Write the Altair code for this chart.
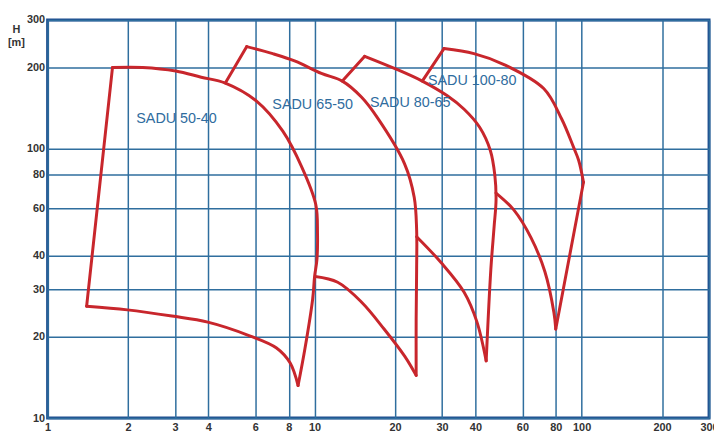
import altair as alt
import pandas as pd

# Axis tick values
x_ticks = [1, 2, 3, 4, 6, 8, 10, 20, 30, 40, 60, 80, 100, 200, 300]
y_ticks = [10, 20, 30, 40, 60, 80, 100, 200, 300]

# SADU 50-40 outline pieces (Q in m3/h, H in m)
s5040_left_q = [1.40, 1.75]
s5040_left_h = [26.0, 200]
s5040_top_q = [1.75, 2.27, 3.02, 3.76, 4.63, 6.06, 7.6, 8.97, 10.1, 10.25, 10.2, 10.0, 9.83, 9.2, 8.67]
s5040_top_h = [200, 200, 194, 184, 175, 150, 116, 85, 62, 48.7, 38.7, 33.6, 27.6, 18.1, 13.2]
s5040_bot_q = [8.67, 8.1, 7.2, 5.71, 3.98, 2.92, 1.99, 1.40]
s5040_bot_h = [13.2, 16.0, 18.2, 20.2, 22.7, 23.9, 25.2, 26.0]

# SADU 65-50
s6550_stub_q = [4.63, 5.57]
s6550_stub_h = [175, 239]
s6550_top_q = [5.57, 6.97, 8.46, 10.6, 12.7, 15.0, 17.2, 21.7, 23.6, 24.1, 24.1, 24.0, 24.0]
s6550_top_h = [239, 225, 211, 190, 178, 155, 130, 88, 66, 50, 35.6, 23.3, 14.4]
s6550_bot_q = [24.0, 21.7, 18.2, 15.0, 12.2, 10.05]
s6550_bot_h = [14.4, 17.0, 21.4, 26.9, 31.9, 33.5]

# SADU 80-65
s8065_stub_q = [12.7, 15.4]
s8065_stub_h = [178, 220]
s8065_top_q = [15.4, 20, 25.3, 31.4, 36.3, 41.5, 45.5, 47.3, 47.8, 47.0, 45.7, 43.9]
s8065_top_h = [220, 198, 178, 157, 140, 120, 98.4, 79.7, 64.4, 51.2, 35.6, 16.3]
s8065_bot_q = [43.9, 40.5, 36.3, 29.8, 24.1]
s8065_bot_h = [16.3, 22.8, 29.3, 37.7, 47.1]

# SADU 100-80
s10080_stub_q = [25.3, 30.5]
s10080_stub_h = [178, 235]
s10080_top_q = [30.5, 39.5, 51.2, 72.1, 84.1, 93.3, 97.5, 101.6]
s10080_top_h = [235, 225, 205, 167, 129, 101, 90.3, 75]
s10080_right_q = [101.6, 80]
s10080_right_h = [75, 21.4]
s10080_bot_q = [80, 78.7, 72.8, 64.6, 55.7, 47.8]
s10080_bot_h = [21.4, 24.7, 35, 46.7, 59.2, 68.4]

# Curve labels
label_text = ["SADU 50-40", "SADU 65-50", "SADU 80-65", "SADU 100-80"]
label_q = [3.04, 9.83, 22.8, 38.9]
label_h = [129, 145, 147.6, 178]

pieces = [
    ("a1", s5040_left_q, s5040_left_h), ("a2", s5040_top_q, s5040_top_h), ("a3", s5040_bot_q, s5040_bot_h),
    ("b1", s6550_stub_q, s6550_stub_h), ("b2", s6550_top_q, s6550_top_h), ("b3", s6550_bot_q, s6550_bot_h),
    ("c1", s8065_stub_q, s8065_stub_h), ("c2", s8065_top_q, s8065_top_h), ("c3", s8065_bot_q, s8065_bot_h),
    ("d1", s10080_stub_q, s10080_stub_h), ("d2", s10080_top_q, s10080_top_h),
    ("d3", s10080_right_q, s10080_right_h), ("d4", s10080_bot_q, s10080_bot_h),
]
rows = []
for name, qs, hs in pieces:
    for i, (q, h) in enumerate(zip(qs, hs)):
        rows.append({"seg": name, "i": i, "q": q, "h": h})
df = pd.DataFrame(rows)
df_lab = pd.DataFrame({"text": label_text, "q": label_q, "h": label_h})

xscale = alt.Scale(type="log", domain=[1, 300], nice=False)
yscale = alt.Scale(type="log", domain=[10, 300], nice=False)

lines = alt.Chart(df).mark_line(color="#c8262c", strokeWidth=3, strokeJoin="round",
                                strokeCap="round", interpolate="catmull-rom").encode(
    x=alt.X("q:Q", scale=xscale,
            axis=alt.Axis(values=x_ticks, grid=True, ticks=False, domain=False,
                          labelPadding=4, title=None, format="d", labelFlush=False)),
    y=alt.Y("h:Q", scale=yscale,
            axis=alt.Axis(values=y_ticks, grid=True, ticks=False, domain=False,
                          labelPadding=3, format="d", labelFlush=False,
                          title=["H", "[m]"], titleAngle=0, titleX=-32, titleY=15,
                          titleAlign="center", titleBaseline="bottom",
                          titleFontSize=11, titleFontWeight="bold", titleColor="#333",
                          titleFont="Liberation Sans", titleLineHeight=13)),
    detail="seg:N",
    order="i:Q",
)

labels = alt.Chart(df_lab).mark_text(color="#2f6c9e", fontSize=14.5, font="Liberation Sans").encode(
    x=alt.X("q:Q", scale=xscale),
    y=alt.Y("h:Q", scale=yscale),
    text="text:N",
)

chart = (lines + labels).properties(
    width=668, height=402,
    autosize="none",
    padding={"left": 40, "top": 10, "right": 5, "bottom": 16},
).configure_view(
    stroke="#1f4f8f", strokeWidth=3
).configure_axis(
    gridColor="#2f6e9e", gridWidth=1.5, gridOpacity=1,
    labelColor="#333", labelFont="Liberation Sans", labelFontSize=11, labelFontWeight="bold",
)

chart.save("out.html", embed_options={"renderer": "svg", "actions": False})
